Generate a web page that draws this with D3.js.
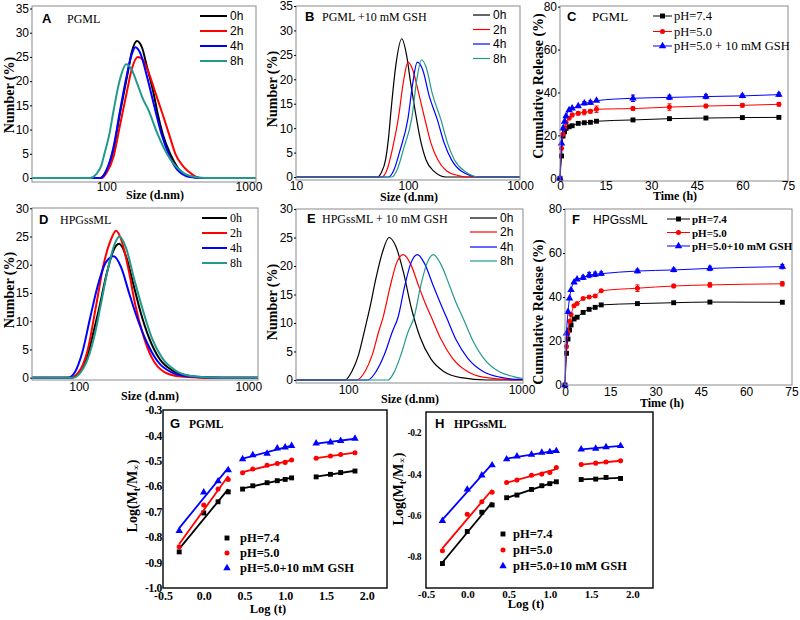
<!DOCTYPE html>
<html><head><meta charset="utf-8">
<script src="https://cdn.jsdelivr.net/npm/d3@7"></script>
<style>body{margin:0;background:#fff}svg{display:block}</style>
</head><body>
<script>
// ---------------- DATA ----------------
const dlsLabels = ["0h","2h","4h","8h"];
// Panel A  (size nm, number %)
const A_0h = [[91,0],[100,1.5],[112.6,6],[125,13.5],[140,21],[151,26],[164,28.3],[178,27],[193,23],[215,17.5],[227,14],[250,9],[281,5],[320,2],[389,0.3],[458,0]];
const A_2h = [[93,0],[100,1],[112.6,4.5],[125,11],[140,18],[151,22.5],[167,25],[182,24.3],[200,21.5],[225,17],[250,13],[280,8.5],[306,5],[350,2.3],[400,0.8],[450,0]];
const A_4h = [[91,0],[100,1.5],[112.6,6.5],[125,14],[140,21.5],[151,25.5],[160,27],[175,25.5],[193,21],[221,14],[245,9],[274,5],[314,1.8],[389,0.2],[480,0]];
const A_8h = [[77,0],[85,0.8],[92,2.5],[97,5],[105,9],[112.6,14],[125,20.5],[138,23.5],[150,22.5],[165,19.5],[180,16.5],[198,14],[230,9],[267,5],[300,2.8],[350,1],[420,0.2],[500,0]];
// Panel B
const B_0h = [[53,0],[58,1],[63,3.5],[67,8],[70.8,14],[78,23],[88,28.3],[97,25],[106,19],[115,14],[128,8],[145,3.5],[170,1.2],[218,0]];
const B_2h = [[58,0],[65,1.5],[73,6],[82,12],[91,19.5],[100,23.5],[110,22],[125,17],[142,11.7],[160,7],[185,3.5],[220,1.3],[280,0.3],[330,0]];
const B_4h = [[67,0],[75,1.5],[85,5.5],[100,12],[110,19],[121,23.5],[135,22],[155,16.5],[183,11.7],[210,7],[245,3.5],[300,1.2],[434,0]];
const B_8h = [[72,0],[80,1.5],[92,6],[108,12],[120,20],[132,24],[145,22.5],[165,17],[197,11.7],[225,7],[260,3.5],[320,1.2],[440,0]];
// Panel D
const D_0h = [[91,0],[100,0.8],[112,3.5],[122,8],[131,11.9],[145,18],[160,22.5],[173,23.7],[190,21.5],[210,16.5],[230,11.9],[260,7],[300,3.3],[360,1.2],[450,0.3],[570,0]];
const D_2h = [[89,0],[100,1],[112,4.5],[127,13],[140,20],[155,24.5],[166,26],[180,24],[197,19],[215,13],[240,7.5],[270,3.5],[320,1],[400,0.2],[545,0]];
const D_4h = [[87,0],[95,1],[105,4.5],[117,10.75],[130,16.5],[145,20.5],[161,21.5],[178,19.5],[198,15],[220,10.75],[250,6.5],[290,3],[350,1],[450,0.2],[700,0]];
const D_8h = [[93,0],[103,1],[115,4],[125,8],[134,12.5],[148,19],[162,23.5],[174,25],[190,23],[212,17.5],[236,12.5],[270,7],[310,3.5],[370,1.3],[460,0.3],[680,0]];
// Panel E
const E_0h = [[96,0],[105,1.5],[115,4.5],[125,9],[133,12.5],[145,18],[158,22.5],[172,25],[188,23.5],[208,19],[232,12.5],[260,7.5],[300,3.7],[360,1.4],[450,0.4],[630,0]];
const E_2h = [[112,0],[125,1.5],[138,4.5],[150,8.5],[159,11],[175,16.5],[190,20.5],[208,22],[228,20.5],[255,16.5],[278,13.5],[302,11],[345,7],[400,3.8],[480,1.6],[600,0.5],[1000,0]];
const E_4h = [[130,0],[145,1.5],[162,4.5],[180,8.5],[194,11],[212,16.5],[230,20.5],[251,22],[275,20.5],[310,16.5],[340,13.5],[369,11],[420,7],[490,3.8],[600,1.5],[750,0.5],[1000,0.1]];
const E_8h = [[170,0],[185,1.5],[202,4.5],[222,8.5],[240,11],[262,16.5],[285,20.5],[310,22],[340,20.5],[385,16.5],[420,13.5],[461,10.8],[526,6.8],[620,3.4],[750,1.4],[900,0.6],[1000,0.3]];
const sizeTicksA = [100,1000];
const sizeTicksB = [10,100,1000];
const numTicks35 = [0,5,10,15,20,25,30,35];
const numTicks30 = [0,5,10,15,20,25,30];

// Panel C release (time h, %)
const C_time = [0,0.5,1,1.5,2,3,4,6,8,10,12,24,36,48,60,72];
const C_ph74 = [0,10.4,19.7,21.7,23.3,24,24.5,25.6,25.9,26.1,26.6,27.2,27.8,28.1,28.3,28.4];
const C_ph50 = [0,14,20.5,23.5,26,28,29.5,30.3,30.8,31.2,32.2,32.5,33.2,33.7,34,34.5];
const C_gsh  = [0,16.3,23.3,26.4,29,31.8,32.6,33.7,35,35.3,36.2,37.3,37.7,38.1,38.4,39];
const C_ph74_err = [0,0.4,0.5,0.4,0.4,0.4,0.4,0.4,0.4,0.4,0.5,0.5,0.5,0.4,0.4,0.5];
const C_ph50_err = [0,0.5,0.6,0.6,0.6,0.6,0.8,0.8,1.2,0.8,1.5,0.8,1.5,0.8,0.8,0.8];
const C_gsh_err  = [0,0.5,0.6,0.6,0.6,0.6,0.6,0.6,0.8,0.8,0.6,1.5,1.0,1.0,0.8,0.8];
// Panel F
const F_time = [0,0.5,1,1.5,2,3,4,6,8,10,12,24,36,48,72];
const F_ph74 = [0,14.4,20.9,25,27.3,30,30.8,33,34.4,35.3,36.4,37,37.4,37.7,37.6];
const F_ph50 = [0,17.5,24,29,32,36,37,39.3,40,40.5,42.8,44,45,45.5,46];
const F_gsh  = [0,23.5,33.3,39.4,43.2,46.7,48,48.8,50,50.3,50.6,51.8,52.3,53,53.8];
const F_ph74_err = [0,0.5,0.5,0.5,0.5,0.5,0.5,0.5,0.5,0.5,0.5,0.5,0.5,0.5,0.5];
const F_ph50_err = [0,0.6,0.6,0.6,0.6,0.6,0.6,0.6,0.6,0.6,0.6,1.5,0.8,1.0,1.0];
const F_gsh_err  = [0,0.6,0.6,0.6,0.6,0.6,0.6,0.8,1.2,1.0,0.8,0.8,0.8,1.0,1.0];
const timeTicks = [0,15,30,45,60,75];
const relTicks = [0,20,40,60,80];
const relLabelsC = ["pH=7.4","pH=5.0","pH=5.0 + 10 mM GSH"];
const relLabelsF = ["pH=7.4","pH=5.0","pH=5.0+10 mM GSH"];

// Panels G/H  log(t) vs log(Mt/Minf)
const logT = [-0.301,0,0.176,0.301,0.477,0.602,0.778,0.903,1.0,1.079,1.380,1.556,1.681,1.857];
const G_ph74 = [-0.858,-0.705,-0.661,-0.622,-0.611,-0.598,-0.586,-0.578,-0.573,-0.567,-0.563,-0.553,-0.546,-0.540];
const G_ph50 = [-0.838,-0.674,-0.611,-0.573,-0.547,-0.532,-0.517,-0.510,-0.506,-0.497,-0.490,-0.481,-0.475,-0.468];
const G_gsh  = [-0.775,-0.624,-0.580,-0.536,-0.493,-0.477,-0.471,-0.451,-0.447,-0.441,-0.431,-0.427,-0.421,-0.412];
const H_ph74 = [-0.832,-0.677,-0.584,-0.549,-0.514,-0.501,-0.474,-0.456,-0.446,-0.437,-0.426,-0.424,-0.416,-0.421];
const H_ph50 = [-0.770,-0.594,-0.533,-0.488,-0.440,-0.429,-0.405,-0.400,-0.392,-0.368,-0.354,-0.347,-0.341,-0.336];
const H_gsh  = [-0.626,-0.474,-0.406,-0.357,-0.328,-0.314,-0.306,-0.296,-0.293,-0.288,-0.280,-0.277,-0.269,-0.264];
const segments = [[0,4],[4,10],[10,14]];
const G_yTicks = [-0.3,-0.4,-0.5,-0.6,-0.7,-0.8,-0.9,-1.0];
const H_yTicks = [-0.2,-0.4,-0.6,-0.8];
const logTicks = [-0.5,0,0.5,1.0,1.5,2.0];
const kinLabels = ["pH=7.4","pH=5.0","pH=5.0+10 mM GSH"];

// ---------------- DRAWING ----------------
const SANS = "'Liberation Sans', Arial, sans-serif";
const SERIF = "'Liberation Serif', 'Times New Roman', serif";
const COL = {k:"#000000", r:"#ff0000", b:"#0000ff", t:"#22998b"};
const svg = d3.select("body").append("svg").attr("width",800).attr("height",620);
svg.append("rect").attr("width",800).attr("height",620).attr("fill","#fff");
let clipN = 0;
function clip(L,T,R,B){const id="c"+(clipN++);svg.append("clipPath").attr("id",id).append("rect").attr("x",L).attr("y",T).attr("width",R-L).attr("height",B-T);return id;}
function txt(x,y,s,o={}){return svg.append("text").attr("x",x).attr("y",y).text(s)
  .attr("font-family",o.f||SANS).attr("font-size",o.s||12).attr("font-weight",o.w||"normal")
  .attr("text-anchor",o.a||"start").attr("fill",o.c||"#000");}
function vtxt(cx,cy,s,o={}){return svg.append("text").attr("transform",`translate(${cx},${cy}) rotate(-90)`)
  .attr("text-anchor","middle").attr("dominant-baseline","central").text(s)
  .attr("font-family",o.f||SERIF).attr("font-size",o.s||14).attr("font-weight",o.w||"bold").attr("fill","#000");}
function styleAxis(g,font,size,weight,ls){g.select(".domain").remove();
  g.selectAll("text").attr("font-family",font).attr("font-size",size).attr("font-weight",weight).attr("fill","#000");
  if(ls) g.selectAll("text").attr("letter-spacing",ls);
  g.selectAll("line").attr("stroke","#000");}
function frame(L,T,R,B,c,w){svg.append("rect").attr("x",L).attr("y",T).attr("width",R-L).attr("height",B-T).attr("fill","none").attr("stroke",c).attr("stroke-width",w);}
const fmt1 = d => d.toFixed(1);
const fmtI = d => String(d);

function dlsPanel(p){
  const x = d3.scaleLog().domain(p.xd).range([p.L,p.R]);
  const y = d3.scaleLinear().domain(p.yd).range([p.B,p.T]);
  const g = svg.append("g").attr("clip-path",`url(#${clip(p.L,p.T,p.R,p.B)})`);
  const line = d3.line().x(d=>x(d[0])).y(d=>y(d[1])).curve(d3.curveMonotoneX);
  p.series.forEach(s=>{
    const d = s.data.slice();
    if(d[0][0]>p.xd[0]) d.unshift([p.xd[0],0]);
    if(d[d.length-1][0]<p.xd[1]) d.push([p.xd[1],d[d.length-1][1]]);
    g.append("path").datum(d).attr("d",line).attr("fill","none").attr("stroke",s.color).attr("stroke-width",p.lw);
  });
  frame(p.L,p.T,p.R,p.B,"#8a8a8a",1);
  const ya = svg.append("g").attr("transform",`translate(${p.L},0)`).call(d3.axisLeft(y).tickValues(p.yt).tickFormat(fmtI).tickSize(2).tickPadding(1));
  styleAxis(ya,SANS,12,"normal");
  const xa = svg.append("g").attr("transform",`translate(0,${p.B})`).call(d3.axisBottom(x).tickValues(p.xt).tickFormat(fmtI).tickSize(0).tickPadding(p.xpad));
  styleAxis(xa,SANS,12,"normal");
  p.series.forEach((s,i)=>{
    const yy = p.leg.ys[i];
    svg.append("line").attr("x1",p.leg.x1).attr("x2",p.leg.x2).attr("y1",yy).attr("y2",yy).attr("stroke",s.color).attr("stroke-width",p.lw);
    txt(p.leg.tx,yy+4.3,s.label,{f:p.leg.f,s:12});
  });
  txt(p.letter[1],p.letter[2],p.letter[0],{f:SANS,s:13,w:"bold"});
  txt(p.sub[1],p.sub[2],p.sub[0],{f:SERIF,s:12});
  vtxt(p.ylab[0],p.ylab[1],"Number (%)");
  txt(p.xlab[0],p.xlab[1],"Size (d.nm)",{f:SERIF,s:12,w:"bold",a:"middle"});
}

function symbolPath(shape, sz){return d3.symbol().type(shape).size(sz)();}
const SHAPES = [{t:d3.symbolSquare,s:24},{t:d3.symbolCircle,s:20},{t:d3.symbolTriangle,s:24}];

function relPanel(p){
  const x = d3.scaleLinear().domain(p.xd).range([p.L,p.R]);
  const y = d3.scaleLinear().domain(p.yd).range([p.B,p.T]);
  const g = svg.append("g");
  const line = d3.line().x(d=>x(d[0])).y(d=>y(d[1])).curve(d3.curveMonotoneX);
  p.series.forEach((s,si)=>{
    const pts = p.time.map((t,i)=>[t,s.vals[i],s.err[i]]);
    g.append("path").datum(pts).attr("d",line).attr("fill","none").attr("stroke",s.color).attr("stroke-width",1);
    pts.forEach(d=>{
      if(d[2]>0.7){
        const x0=x(d[0]);
        g.append("line").attr("x1",x0).attr("x2",x0).attr("y1",y(d[1]-d[2])).attr("y2",y(d[1]+d[2])).attr("stroke",s.color).attr("stroke-width",1);
        [d[1]-d[2],d[1]+d[2]].forEach(v=>g.append("line").attr("x1",x0-2).attr("x2",x0+2).attr("y1",y(v)).attr("y2",y(v)).attr("stroke",s.color).attr("stroke-width",1));
      }
      g.append("path").attr("d",symbolPath(SHAPES[si].t,SHAPES[si].s)).attr("transform",`translate(${x(d[0])},${y(d[1])})`).attr("fill",s.color);
    });
  });
  frame(p.L,p.T,p.R,p.B,"#8a8a8a",1);
  const ya = svg.append("g").attr("transform",`translate(${p.L},0)`).call(d3.axisLeft(y).tickValues(relTicks).tickFormat(fmtI).tickSize(2).tickPadding(1));
  styleAxis(ya,SANS,12,"normal");
  const xa = svg.append("g").attr("transform",`translate(0,${p.B})`).call(d3.axisBottom(x).tickValues(timeTicks).tickFormat(fmtI).tickSize(0).tickPadding(p.xpad));
  styleAxis(xa,SANS,12,"normal");
  p.series.forEach((s,i)=>{
    const yy=p.leg.ys[i];
    svg.append("line").attr("x1",p.leg.x1).attr("x2",p.leg.x2).attr("y1",yy).attr("y2",yy).attr("stroke",s.color).attr("stroke-width",1);
    svg.append("path").attr("d",symbolPath(SHAPES[i].t,SHAPES[i].s)).attr("transform",`translate(${(p.leg.x1+p.leg.x2)/2},${yy})`).attr("fill",s.color);
    txt(p.leg.tx,yy+4.2,s.label,{f:SERIF,s:p.leg.s,w:p.leg.w});
  });
  txt(p.letter[1],p.letter[2],p.letter[0],{f:SANS,s:13,w:"bold"});
  txt(p.sub[1],p.sub[2],p.sub[0],{f:p.sub[3],s:p.sub[4]});
  vtxt(p.ylab[0],p.ylab[1],"Cumulative Release (%)");
  txt(p.xlab[0],p.xlab[1],"Time (h)",{f:SERIF,s:12,w:"bold",a:"middle"});
}

function fit(xs,ys){const n=xs.length,mx=d3.mean(xs),my=d3.mean(ys);
  let sxy=0,sxx=0;for(let i=0;i<n;i++){sxy+=(xs[i]-mx)*(ys[i]-my);sxx+=(xs[i]-mx)**2;}
  const b=sxy/sxx;return v=>my+b*(v-mx);}

function kinPanel(p){
  const x = d3.scaleLinear().domain(p.xd).range([p.L,p.R]);
  const y = d3.scaleLinear().domain(p.yd).range([p.B,p.T]);
  const g = svg.append("g");
  p.series.forEach((s,si)=>{
    segments.forEach(([a,b])=>{
      const xs=logT.slice(a,b), ys=s.vals.slice(a,b), f=fit(xs,ys);
      g.append("line").attr("x1",x(xs[0])).attr("x2",x(xs[xs.length-1])).attr("y1",y(f(xs[0]))).attr("y2",y(f(xs[xs.length-1])))
        .attr("stroke",s.color).attr("stroke-width",1.8);
    });
    logT.forEach((t,i)=>g.append("path").attr("d",symbolPath(SHAPES[si].t,SHAPES[si].s)).attr("transform",`translate(${x(t)},${y(s.vals[i])})`).attr("fill",s.color));
  });
  frame(p.L,p.T,p.R,p.B,"#000",1.4);
  const ya = svg.append("g").attr("transform",`translate(${p.L},0)`).call(d3.axisLeft(y).tickValues(p.yt).tickFormat(fmt1).tickSize(0).tickPadding(p.ypad));
  styleAxis(ya,SERIF,p.yfs,"bold",p.yls);
  const xa = svg.append("g").attr("transform",`translate(0,${p.B})`).call(d3.axisBottom(x).tickValues(logTicks).tickFormat(fmt1).tickSize(0).tickPadding(p.xpad));
  styleAxis(xa,SERIF,p.xfs,"bold");
  p.series.forEach((s,i)=>{
    const yy=p.leg.ys[i];
    svg.append("path").attr("d",symbolPath(SHAPES[i].t,SHAPES[i].s)).attr("transform",`translate(${p.leg.mx},${yy})`).attr("fill",s.color);
    txt(p.leg.tx,yy+4.3,s.label,{f:SERIF,s:12.5,w:"bold"});
  });
  txt(p.letter[1],p.letter[2],p.letter[0],{f:SANS,s:13,w:"bold"});
  txt(p.sub[1],p.sub[2],p.sub[0],{f:SERIF,s:11.5,w:"bold"});
  const t = svg.append("text").attr("transform",`translate(${p.ylab[0]},${p.ylab[1]}) rotate(-90)`).attr("text-anchor","middle")
    .attr("dominant-baseline","central").attr("font-family",SERIF).attr("font-size",14).attr("font-weight","bold");
  t.append("tspan").text("Log(M");
  t.append("tspan").text("t").attr("font-size",10).attr("dy",4);
  t.append("tspan").text("/M").attr("dy",-4);
  t.append("tspan").text("\u221E").attr("font-size",9).attr("dy",4);
  t.append("tspan").text(")").attr("dy",-4);
  txt(p.xlab[0],p.xlab[1],"Log (t)",{f:SERIF,s:12.5,w:"bold",a:"middle"});
}

const dlsCols = [COL.k,COL.r,COL.b,COL.t];
const mk = arrs => arrs.map((d,i)=>({data:d,color:dlsCols[i],label:dlsLabels[i]}));

dlsPanel({L:32,R:256,T:6,B:182,xd:[30,1130],yd:[-0.83,35.52],yt:numTicks35,xt:sizeTicksA,xpad:0,lw:2,
  series:mk([A_0h,A_2h,A_4h,A_8h]),leg:{x1:200,x2:227,tx:230,ys:[16,31,46,61],f:SANS},
  letter:["A",42,23],sub:["PGML",67,23],ylab:[9,95],xlab:[155,199]});
dlsPanel({L:296,R:520,T:6,B:180,xd:[10,1000],yd:[-0.61,35],yt:numTicks35,xt:sizeTicksB,xpad:1,lw:1.2,
  series:mk([B_0h,B_2h,B_4h,B_8h]),leg:{x1:473,x2:490,tx:493,ys:[15,29.5,44,58.5],f:SANS},
  letter:["B",305,21],sub:["PGML +10 mM GSH",322,21],ylab:[272,89],xlab:[409,201]});
dlsPanel({L:32,R:258,T:208,B:380,xd:[53,1140],yd:[-0.41,30.05],yt:numTicks30,xt:sizeTicksA,xpad:2,lw:2,
  series:mk([D_0h,D_2h,D_4h,D_8h]),leg:{x1:202,x2:227,tx:230,ys:[218,233,248,263],f:SERIF},
  letter:["D",39,224],sub:["HPGssML",60,224],ylab:[9,290],xlab:[150,400]});
dlsPanel({L:296,R:523,T:209,B:383,xd:[50,1020],yd:[-0.53,30],yt:numTicks30,xt:sizeTicksA,xpad:2,lw:1.2,
  series:mk([E_0h,E_2h,E_4h,E_8h]),leg:{x1:470,x2:497,tx:500,ys:[218,232,247,261],f:SANS},
  letter:["E",307,223],sub:["HPGssML + 10 mM GSH",322,223],ylab:[272,302],xlab:[410,403]});

const relCols=[COL.k,COL.r,COL.b];
relPanel({L:560,R:788,T:6,B:181,xd:[0,75],yd:[-1.25,80.3],xpad:0,time:C_time,
  series:[{vals:C_ph74,err:C_ph74_err,color:relCols[0],label:relLabelsC[0]},{vals:C_ph50,err:C_ph50_err,color:relCols[1],label:relLabelsC[1]},{vals:C_gsh,err:C_gsh_err,color:relCols[2],label:relLabelsC[2]}],
  leg:{x1:653,x2:672,tx:674,ys:[16,31.5,46],s:12.5,w:"normal"},
  letter:["C",567,21],sub:["PGML",592,21,SERIF,13],ylab:[538,86],xlab:[675,200]});
relPanel({L:565,R:792,T:209,B:385,xd:[0,75.2],yd:[0,80],xpad:2,time:F_time,
  series:[{vals:F_ph74,err:F_ph74_err,color:relCols[0],label:relLabelsF[0]},{vals:F_ph50,err:F_ph50_err,color:relCols[1],label:relLabelsF[1]},{vals:F_gsh,err:F_gsh_err,color:relCols[2],label:relLabelsF[2]}],
  leg:{x1:667,x2:690,tx:692,ys:[219,232.5,246],s:11,w:"bold"},
  letter:["F",572,224],sub:["HPGssML",593,224,SANS,12],ylab:[538,312],xlab:[662,407]});

kinPanel({L:163,R:387,T:410,B:588,xd:[-0.5,2.25],yd:[-1.0,-0.3],yt:G_yTicks,ypad:1,xpad:3,yfs:11.5,xfs:12,yls:-0.3,
  series:[{vals:G_ph74,color:relCols[0],label:kinLabels[0]},{vals:G_ph50,color:relCols[1],label:kinLabels[1]},{vals:G_gsh,color:relCols[2],label:kinLabels[2]}],
  leg:{mx:227,tx:240,ys:[538,553,568]},letter:["G",170,428],sub:["PGML",189,428],ylab:[132,496],xlab:[268,613]});
kinPanel({L:426,R:653,T:412,B:588,xd:[-0.5,2.25],yd:[-0.95,-0.1],yt:H_yTicks,ypad:5,xpad:2,yfs:9.5,xfs:11,yls:-0.4,
  series:[{vals:H_ph74,color:relCols[0],label:kinLabels[0]},{vals:H_ph50,color:relCols[1],label:kinLabels[1]},{vals:H_gsh,color:relCols[2],label:kinLabels[2]}],
  leg:{mx:503,tx:513,ys:[534,550,566]},letter:["H",435,428],sub:["HPGssML",454,428],ylab:[398,489],xlab:[526,608]});
</script>
</body></html>
